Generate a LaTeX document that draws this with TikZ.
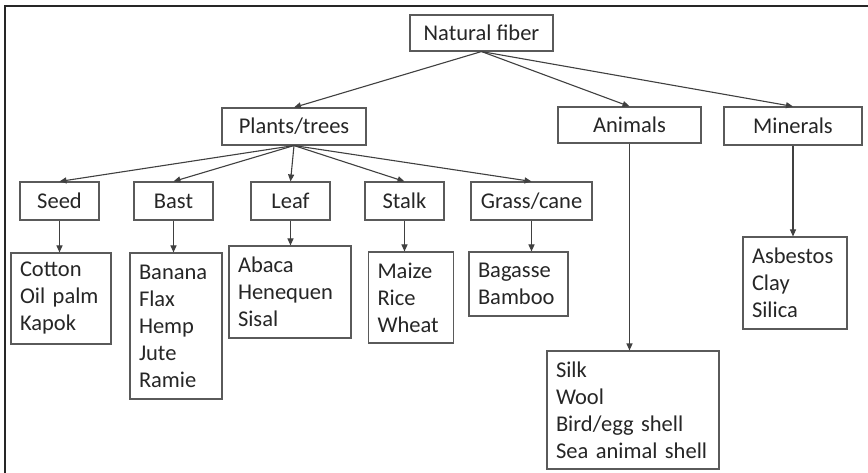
\documentclass[tikz,border=0pt]{standalone}
\usepackage{fontspec}
\setmainfont{Carlito}
\usetikzlibrary{arrows.meta}
\definecolor{boxline}{HTML}{5A5A5A}
\definecolor{arrowline}{HTML}{404040}
\begin{document}
\begin{tikzpicture}[x=1pt,y=-1pt,
  font=\fontsize{22.5}{27}\selectfont,
  catbox/.style={draw=boxline, line width=1.1pt, inner sep=0pt, align=center, text=black!85},
  listbox/.style={draw=boxline, line width=1.1pt, inner xsep=9pt, inner ysep=0pt, align=left, text=black!85},
  link/.style={draw=arrowline, line width=1.1pt, -{Triangle[length=7pt,width=6pt]}}]
\useasboundingbox (0,0) rectangle (868,473);
\fill[white] (0,0) rectangle (868,473);
% frame
\draw[line width=2.6pt, black!85] (5,473) -- (5,6) -- (868,6);

% top and first level
\node[catbox, minimum width=143pt, minimum height=36pt] (nf) at (481.5,33) {Natural~fiber};
\node[catbox, minimum width=144pt, minimum height=37pt] (plants) at (294,126.5) {Plants/trees};
\node[catbox, minimum width=143pt, minimum height=36pt] (animals) at (629.5,125) {Animals};
\node[catbox, minimum width=138pt, minimum height=38pt] (minerals) at (793,126) {Minerals};

% plant categories
\node[catbox, minimum width=79pt, minimum height=38pt] (seed) at (59.5,201) {Seed};
\node[catbox, minimum width=79pt, minimum height=38pt] (bast) at (173.5,201) {Bast};
\node[catbox, minimum width=79pt, minimum height=38pt] (leaf) at (290.5,201) {Leaf};
\node[catbox, minimum width=79pt, minimum height=38pt] (stalk) at (404.5,201) {Stalk};
\node[catbox, minimum width=121pt, minimum height=38pt] (grass) at (531.5,201) {Grass/cane};

% example lists (unbreakable spaces keep each entry on one line)
\node[listbox, text width=82pt, minimum height=91pt] (cotton) at (61,298.5) {Cotton\\Oil~palm\\Kapok};
\node[listbox, text width=74pt, minimum height=146pt] (banana) at (176,326) {Banana\\Flax\\Hemp\\Jute\\Ramie};
\node[listbox, text width=104pt, minimum height=92pt] (abaca) at (290,292) {Abaca\\Henequen\\Sisal};
\node[listbox, text width=67pt, minimum height=91pt] (maize) at (411,297.5) {Maize\\Rice\\Wheat};
\node[listbox, text width=81pt, minimum height=64pt] (bagasse) at (518.5,284) {Bagasse\\Bamboo};
\node[listbox, text width=154pt, minimum height=118pt] (silk) at (633,410) {Silk\\Wool\\Bird/egg~shell\\Sea~animal~shell};
\node[listbox, text width=86pt, minimum height=92pt] (asbestos) at (795,283) {Asbestos\\Clay\\Silica};

% connectors
\draw[link] (nf.south) -- (plants.north);
\draw[link] (nf.south) -- (animals.north);
\draw[link] (nf.south) -- (minerals.north);
\draw[link] (plants.south) -- (seed.north);
\draw[link] (plants.south) -- (bast.north);
\draw[link] (plants.south) -- (leaf.north);
\draw[link] (plants.south) -- (stalk.north);
\draw[link] (plants.south) -- (grass.north);
\draw[link] (seed.south) -- (seed.south |- cotton.north);
\draw[link] (bast.south) -- (bast.south |- banana.north);
\draw[link] (leaf.south) -- (leaf.south |- abaca.north);
\draw[link] (stalk.south) -- (stalk.south |- maize.north);
\draw[link] (grass.south) -- (grass.south |- bagasse.north);
\draw[link] (animals.south) -- (animals.south |- silk.north);
\draw[link] (minerals.south) -- (minerals.south |- asbestos.north);
\end{tikzpicture}
\end{document}
